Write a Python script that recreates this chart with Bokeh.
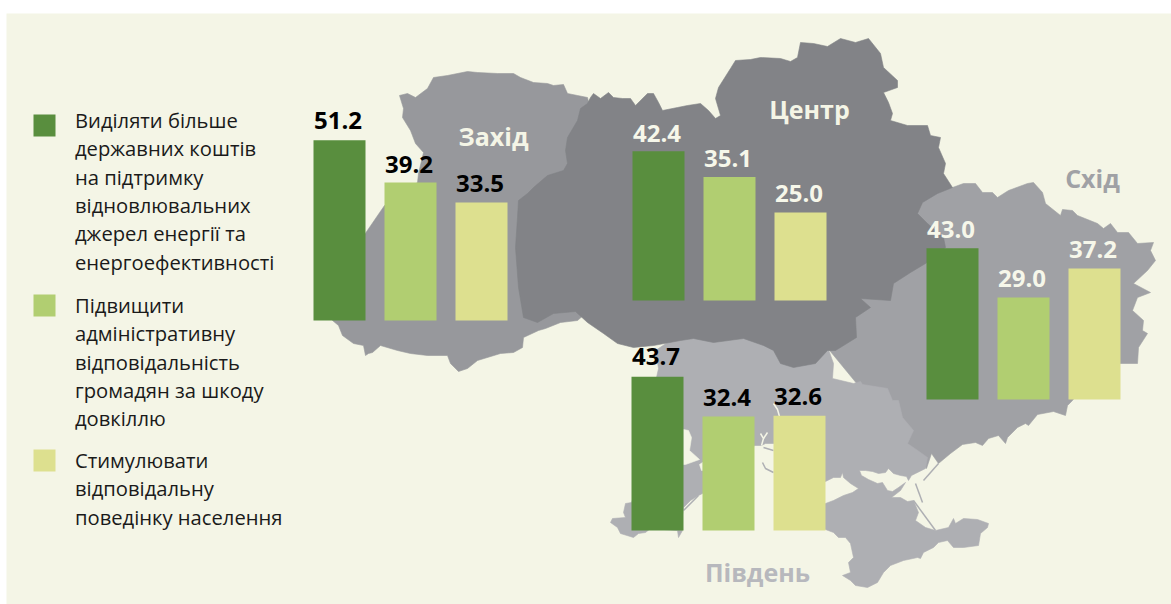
from bokeh.plotting import figure
from bokeh.models import Range1d
from bokeh.core.properties import value
from bokeh.embed import file_html
from bokeh.resources import INLINE

# ---- survey values (%) by region and answer
zahid = [51.2, 39.2, 33.5]
tsentr = [42.4, 35.1, 25.0]
skhid = [43.0, 29.0, 37.2]
pivden = [43.7, 32.4, 32.6]
legend_texts = [
    ["Виділяти більше", "державних коштів", "на підтримку", "відновлювальних", "джерел енергії та", "енергоефективності"],
    ["Підвищити", "адміністративну", "відповідальність", "громадян за шкоду", "довкіллю"],
    ["Стимулювати", "відповідальну", "поведінку населення"],
]
region_names = ["Захід", "Центр", "Схід", "Південь"]

# ---- layout
bar_colors = ["#598e3e", "#b1ce71", "#dde08f"]
panel = "#f4f5e6"
fill_west, fill_centre, fill_east, fill_south = "#97989c", "#828387", "#a0a1a5", "#aeafb3"
groups = [  # values, x of first bar's left edge, baseline y, label colour, label gaps
    (zahid, 313, 320, "#000000", [11, 9, 10]),
    (tsentr, 632, 300, "#f6f7ea", [9, 9, 10]),
    (skhid, 926, 399, "#f6f7ea", [10, 10, 10]),
    (pivden, 631, 530, "#000000", [11, 10, 10]),
]
BAR_W, BAR_STEP, PX_PER_PCT = 52, 71, 3.52
BASE_FIX = 0.38  # em, alphabetic baseline correction

# ---- map outline (page pixels)
west_map = [(399,95),(407,93),(415,97),(427,88),(433,77),(447,75),(467,71),(477,72),(497,73),(513,73),(520,77),(533,82),(547,83),
            (553,85),(563,84),(567,93),(577,95),(587,97),(590,110),(600,150),(600,300),(577,320),(560,322),(545,328),(538,330),
            (523,337),(522,347),(513,352),(500,353),(477,360),(467,368),(458,371),(450,363),(447,355),(427,355),(410,353),(397,350),
            (380,345),(372,352),(368,353),(365,355),(363,345),(353,343),(342,335),(338,325),(332,320),(340,300),(360,240),(384,205),
            (417,182),(418,173),(423,152),(415,143),(410,130),(402,117),(403,108)]
east_map = [(952,187),(963,183),(975,183),(982,192),(992,192),(997,197),(1008,190),(1027,183),(1033,182),(1042,192),(1045,203),
            (1060,215),(1062,209),(1072,210),(1077,215),(1097,223),(1103,228),(1110,223),(1117,232),(1128,232),(1137,243),(1153,242),
            (1150,250),(1155,260),(1147,270),(1133,283),(1150,292),(1137,297),(1132,310),(1143,320),(1142,330),(1147,333),(1138,347),
            (1137,363),(1100,363),(1072,400),(1067,405),(1065,415),(1053,411),(1037,414),(1028,425),(1025,423),(1017,427),(1007,437),
            (1005,443),(998,435),(988,438),(982,445),(975,442),(962,444),(950,453),(938,463),(931,453),(926,468),(825,345),(860,290),(930,190)]
south_map = [(655,350),(700,320),(800,320),(828,349),(833,363),(832,378),(853,383),(860,381),(862,384),(887,388),(892,400),(898,400),
             (902,417),(913,430),(907,443),(920,452),(927,457),(925,468),(915,473),(911,475),(908,480),(906,476),(900,475),(893,473),
             (888,468),(885,472),(878,473),(872,471),(865,470),(859,470),(861,475),(868,479),(877,483),(882,482),(887,490),(892,491),
             (898,487),(905,482),(900,490),(891,497),(900,497),(907,501),(913,500),(918,512),(915,520),(925,527),(935,530),(948,527),
             (953,518),(955,523),(963,518),(977,519),(988,523),(987,527),(980,533),(978,545),(963,547),(953,547),(947,540),(938,542),
             (933,547),(923,552),(920,558),(917,557),(903,560),(890,565),(883,572),(877,582),(867,587),(855,585),(850,580),(842,575),
             (850,572),(848,562),(853,557),(850,543),(845,537),(838,537),(833,532),(825,529),(800,510),(825,503),(833,500),(843,495),
             (852,492),(858,488),(850,483),(843,477),(842,472),(840,477),(833,477),(825,481),(790,478),(780,445),(773,443),(765,443),
             (761,445),(754,445),(735,470),(702,493),(698,495),(690,500),(683,507),(680,528),(682,530),(678,537),(677,530),(650,528),
             (645,532),(638,533),(633,537),(620,533),(617,527),(610,522),(612,518),(625,517),(623,512),(625,503),(631,502),(640,480),
             (660,400),(656,377),(658,368)]
centre_map = [(518,200),(527,193),(533,187),(547,175),(563,170),(567,163),(565,150),(567,137),(577,120),(580,108),(587,103),(590,97),
              (593,93),(600,98),(608,92),(613,97),(622,98),(630,98),(635,105),(647,93),(653,93),(658,102),(662,110),(677,107),(687,105),
              (700,103),(708,110),(715,118),(720,115),(715,98),(718,87),(730,68),(735,60),(750,59),(760,57),(780,58),(790,61),(797,57),
              (800,42),(813,43),(827,46),(840,38),(855,42),(868,38),(880,53),(883,67),(897,80),(897,87),(883,92),(888,102),(892,113),
              (890,120),(907,125),(927,125),(930,135),(940,137),(938,147),(945,163),(943,173),(952,187),(937,193),(922,202),(917,213),
              (927,223),(943,237),(945,247),(925,263),(910,272),(893,283),(890,300),(860,298),(870,307),(855,317),(856,337),(835,350),
              (827,350),(815,363),(793,367),(780,363),(773,350),(763,345),(743,338),(713,342),(693,338),(680,340),(653,345),(633,347),
              (617,343),(603,333),(587,322),(575,311),(553,313),(537,322),(523,317),(518,287),(515,247),(517,217)]
# water and spits drawn over the land
liman_1 = [(683,429),(688,430),(691,437),(689,450),(699,459),(685,464),(683,464)]
liman_2 = [(702,462),(699,464),(701,470),(702,470)]
water_lines = [[(773,403),(777,409),(779,416)], [(760,433),(763,438),(761,445)], [(763,438),(767,432)]]
land_lines = [[(913,500),(935,530)], [(915,483),(922,502)], [(938,463),(923,480)],
              [(698,495),(683,510)], [(763,447),(773,450)], [(762,462),(765,468),(773,472)]]

p = figure(width=1171, height=604, x_range=Range1d(0, 1171), y_range=Range1d(604, 0),
           output_backend="svg", toolbar_location=None, min_border=0, outline_line_color=None,
           background_fill_color="#ffffff", border_fill_color="#ffffff")
p.axis.visible = False
p.grid.visible = False

p.quad(left=[6], right=[1171], top=[13], bottom=[604], fill_color=panel, line_color=None)

def land(points, color):
    xs, ys = zip(*points)
    p.patch(list(xs), list(ys), fill_color=color, line_color=color, line_width=0.6)

land(west_map, fill_west)
land(east_map, fill_east)
land(south_map, fill_south)
land(centre_map, fill_centre)
land(liman_1, panel)
land(liman_2, panel)
for seg in water_lines:
    xs, ys = zip(*seg)
    p.line(list(xs), list(ys), line_color=panel, line_width=1.5)
for seg in land_lines:
    xs, ys = zip(*seg)
    p.line(list(xs), list(ys), line_color=fill_south, line_width=1.5)

FONT = value("Open Sans")

# ---- bars and their labels
VAL_SIZE = 24
for vals, x0, base, lab_col, gaps in groups:
    lefts = [x0 + i * BAR_STEP for i in range(3)]
    tops = [base - v * PX_PER_PCT for v in vals]
    p.vbar(x=[l + BAR_W / 2 for l in lefts], width=BAR_W, bottom=base, top=tops,
           fill_color=bar_colors, line_color=None)
    p.text(x=[l + BAR_W / 2 - 1.5 for l in lefts], y=[t - g - BASE_FIX * VAL_SIZE for t, g in zip(tops, gaps)],
           text=[f"{v:.1f}" for v in vals], text_font=FONT, text_font_style="bold", text_font_size=f"{VAL_SIZE}px",
           text_color=lab_col, text_align="center", text_baseline="alphabetic")

# ---- region names
REG_SIZE = 25
p.text(x=[493, 809, 1092, 757], y=[b - BASE_FIX * REG_SIZE for b in [145, 118, 187, 581]], text=region_names, text_font=FONT,
       text_font_style="bold", text_font_size=f"{REG_SIZE}px", text_color=["#f4f5e6", "#f4f5e6", "#a0a1a5", "#b7b8bd"],
       text_align="center", text_baseline="alphabetic")

# ---- legend
LEG_SIZE = 20.2
for lines, sq_top, first_base, col in zip(legend_texts, [114, 294, 449], [127, 312, 467], bar_colors):
    p.quad(left=[33], right=[55], top=[sq_top], bottom=[sq_top + 22], fill_color=col, line_color=None)
    p.text(x=[74.5] * len(lines), y=[first_base - BASE_FIX * LEG_SIZE + i * 28.4 for i in range(len(lines))], text=lines,
           text_font=FONT, text_font_size=f"{LEG_SIZE}px", text_color="#1a1a1a",
           text_align="left", text_baseline="alphabetic")

open("out.html", "w").write(file_html(p, INLINE))
